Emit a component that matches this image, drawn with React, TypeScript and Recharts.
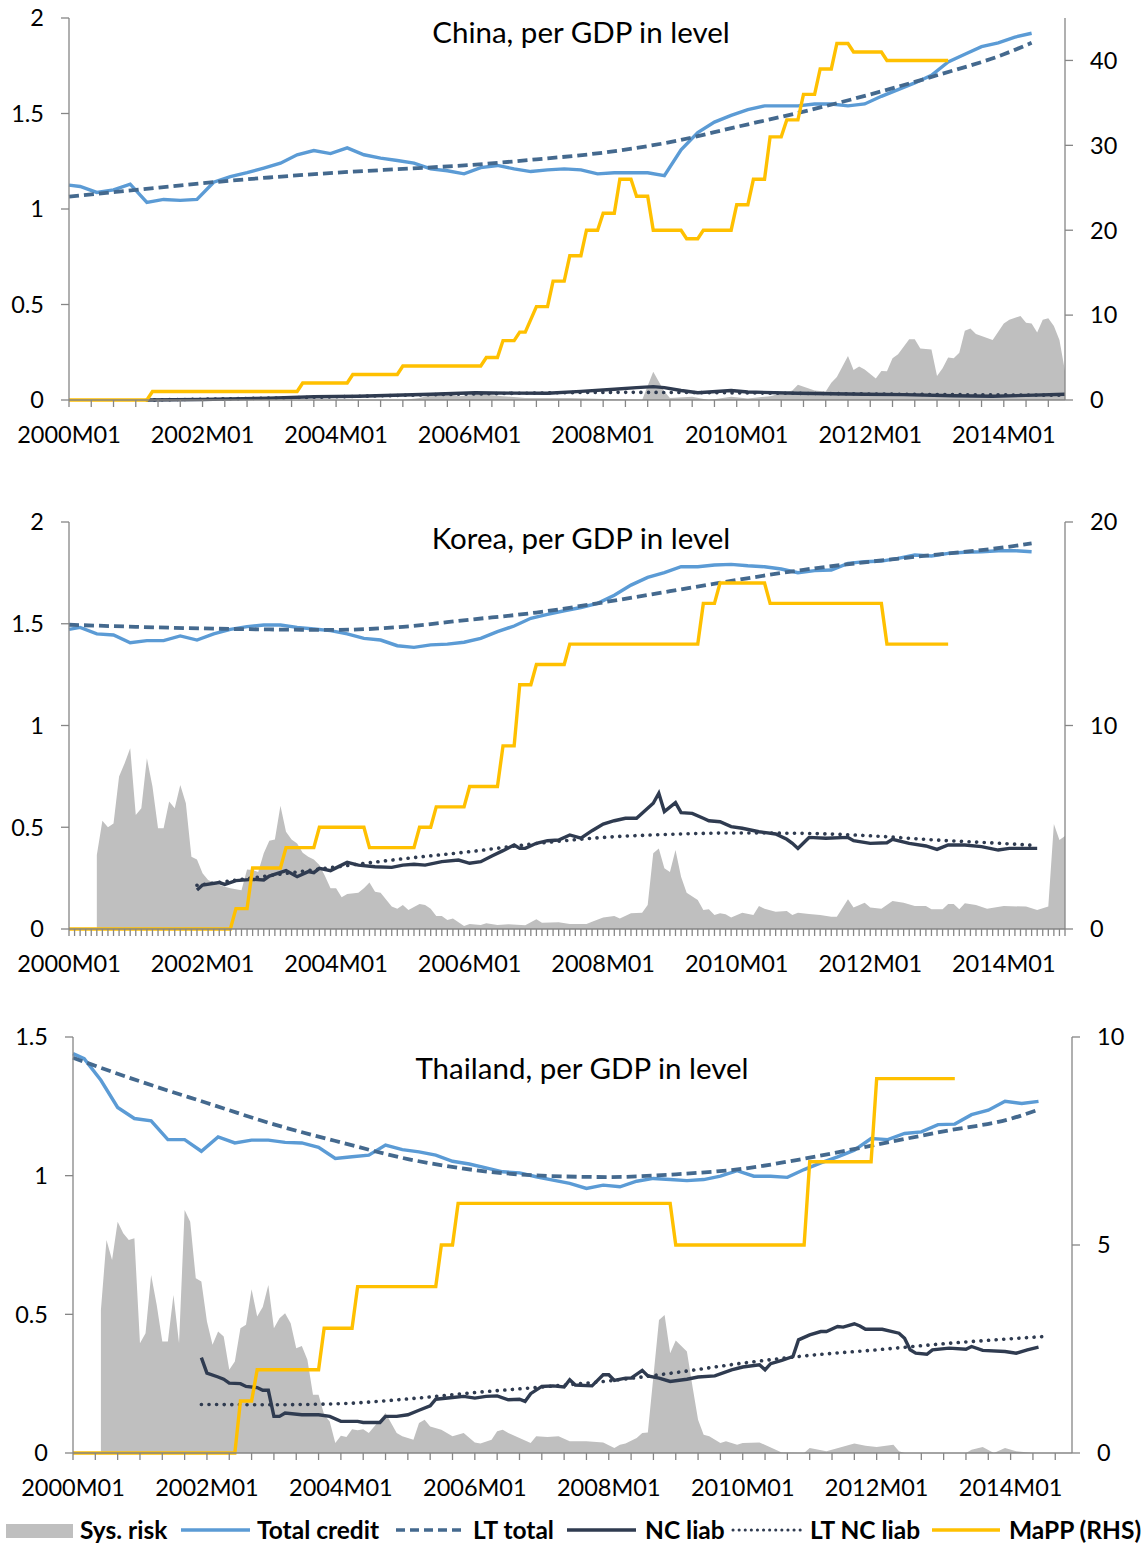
import React from "react";
import { Area, ComposedChart, Line, XAxis, YAxis } from "recharts";

const FONT = "Lato, 'Open Sans', sans-serif";
const AXIS = "#868686";
const C_RISK = "#BFBFBF";
const C_CREDIT = "#5B9BD5";
const C_LT = "#44698E";
const C_NC = "#2F3B50";
const C_MAPP = "#FFC000";

// month index: 0 = 2000M01
const labelMonths = [0, 24, 48, 72, 96, 120, 144, 168];
const labelText = ["2000M01", "2002M01", "2004M01", "2006M01", "2008M01", "2010M01", "2012M01", "2014M01"];

// total credit is quarterly
const quarterMonths = [
  0, 2, 5, 8, 11, 14, 17, 20, 23, 26, 29, 32, 35, 38, 41, 44, 47, 50, 53, 56, 59, 62, 65, 68, 71, 74, 77, 80, 83, 86,
  89, 92, 95, 98, 101, 104, 107, 110, 113, 116, 119, 122, 125, 128, 131, 134, 137, 140, 143, 146, 149, 152, 155, 158,
  161, 164, 167, 170, 173,
];
const trendMonths = [0, 12, 24, 36, 48, 60, 72, 84, 96, 108, 120, 132, 144, 156, 168, 173];

// ---------- China ----------
const chinaCredit = [
  1.125, 1.118, 1.087, 1.1, 1.13, 1.034, 1.05, 1.045, 1.05, 1.14, 1.17, 1.19, 1.214, 1.24, 1.284, 1.306, 1.29, 1.32,
  1.284, 1.266, 1.254, 1.24, 1.21, 1.2, 1.184, 1.217, 1.228, 1.21, 1.196, 1.205, 1.21, 1.205, 1.184, 1.19, 1.19, 1.19,
  1.175, 1.31, 1.4, 1.455, 1.49, 1.52, 1.54, 1.54, 1.54, 1.55, 1.55, 1.54, 1.55, 1.59, 1.625, 1.66, 1.7, 1.77, 1.81,
  1.85, 1.87, 1.9, 1.92,
];
const chinaLt = [1.065, 1.1, 1.135, 1.165, 1.19, 1.21, 1.23, 1.26, 1.295, 1.35, 1.43, 1.51, 1.6, 1.7, 1.81, 1.87];
const chinaNcM = [14, 24, 36, 44, 52, 60, 65, 73, 80, 86, 92, 98, 102, 105, 107, 110, 113, 119, 122, 131, 143, 150, 159, 166, 172, 179];
const chinaNcV = [0, 0.003, 0.01, 0.017, 0.02, 0.026, 0.03, 0.038, 0.036, 0.035, 0.045, 0.056, 0.065, 0.07, 0.065, 0.05, 0.038, 0.05, 0.042, 0.035, 0.03, 0.028, 0.022, 0.02, 0.024, 0.03];
const chinaLtNcM = [14, 40, 70, 100, 130, 160, 179];
const chinaLtNcV = [0, 0.012, 0.03, 0.04, 0.035, 0.028, 0.025];
const chinaRiskM = [
  0, 60, 63, 67, 70, 74, 78, 82, 90, 103, 105, 107, 108, 112, 115, 119, 122, 126, 130, 131, 134, 136, 137, 138, 140,
  141, 142, 143, 145, 146, 147, 148, 149, 151, 152, 153, 155, 156, 157, 158, 159, 160, 161, 162, 163, 166, 168, 169,
  171, 172, 173, 174, 175, 176, 177, 178, 179,
];
const chinaRiskV = [
  0, 0, 0.01, 0.04, 0.02, 0.03, 0.02, 0.01, 0.01, 0, 0.148, 0.044, 0.01, 0.017, 0, 0.017, 0.008, 0.02, 0.05, 0.08,
  0.05, 0.044, 0.09, 0.12, 0.23, 0.157, 0.175, 0.16, 0.113, 0.152, 0.15, 0.218, 0.24, 0.318, 0.318, 0.27, 0.265, 0.126,
  0.166, 0.223, 0.218, 0.248, 0.363, 0.375, 0.346, 0.314, 0.4, 0.42, 0.44, 0.405, 0.4, 0.354, 0.42, 0.428, 0.388,
  0.314, 0.15,
];
const chinaMappM = [
  0, 14, 15, 41, 42, 50, 51, 59, 60, 74, 75, 77, 78, 80, 81, 82, 84, 86, 87, 89, 90, 92, 93, 95, 96, 98, 99, 101, 102,
  104, 105, 110, 111, 113, 114, 119, 120, 122, 123, 125, 126, 128, 129, 131, 132, 134, 135, 137, 138, 140, 141, 146,
  147, 158,
];
const chinaMappV = [
  0, 0, 1, 1, 2, 2, 3, 3, 4, 4, 5, 5, 7, 7, 8, 8, 11, 11, 14, 14, 17, 17, 20, 20, 22, 22, 26, 26, 24, 24, 20, 20, 19,
  19, 20, 20, 23, 23, 26, 26, 31, 31, 33, 33, 36, 36, 39, 39, 42, 42, 41, 41, 40, 40,
];

// ---------- Korea ----------
const koreaCredit = [
  1.472, 1.482, 1.45, 1.445, 1.407, 1.417, 1.417, 1.44, 1.42, 1.45, 1.472, 1.486, 1.494, 1.494, 1.482, 1.474, 1.466,
  1.45, 1.428, 1.42, 1.392, 1.384, 1.396, 1.4, 1.409, 1.428, 1.461, 1.489, 1.527, 1.546, 1.564, 1.58, 1.6, 1.64, 1.69,
  1.728, 1.751, 1.78, 1.78, 1.789, 1.792, 1.785, 1.78, 1.769, 1.751, 1.761, 1.764, 1.797, 1.805, 1.808, 1.821, 1.838,
  1.833, 1.846, 1.851, 1.854, 1.859, 1.859, 1.854,
];
const koreaLt = [1.495, 1.485, 1.477, 1.472, 1.47, 1.485, 1.52, 1.555, 1.605, 1.66, 1.715, 1.765, 1.805, 1.84, 1.875, 1.895];
const koreaNcM = [
  23, 24, 27, 28, 30, 33, 35, 36, 39, 41, 43, 44, 45, 47, 49, 50, 52, 55, 58, 60, 62, 64, 67, 70, 72, 74, 76, 78, 80,
  81, 82, 84, 86, 88, 90, 92, 94, 96, 98, 100, 102, 104, 105, 106, 107, 109, 110, 112, 114, 115, 117, 119, 121, 124,
  127, 129, 130, 131, 133, 136, 140, 141, 144, 147, 148, 151, 154, 156, 158, 161, 164, 167, 169, 174,
];
const koreaNcV = [
  0.192, 0.216, 0.228, 0.219, 0.238, 0.244, 0.241, 0.26, 0.287, 0.257, 0.282, 0.277, 0.298, 0.287, 0.314, 0.328,
  0.314, 0.306, 0.303, 0.314, 0.318, 0.314, 0.331, 0.339, 0.323, 0.331, 0.359, 0.385, 0.413, 0.396, 0.396, 0.421,
  0.434, 0.437, 0.462, 0.446, 0.483, 0.516, 0.532, 0.544, 0.544, 0.593, 0.618, 0.667, 0.577, 0.621, 0.572, 0.568,
  0.544, 0.532, 0.527, 0.503, 0.495, 0.478, 0.467, 0.441, 0.421, 0.396, 0.45, 0.446, 0.45, 0.434, 0.421, 0.424, 0.441,
  0.421, 0.408, 0.391, 0.413, 0.413, 0.405, 0.388, 0.396, 0.396,
];
const koreaLtNcM = [23, 36, 48, 60, 72, 84, 96, 108, 120, 132, 144, 156, 168, 174];
const koreaLtNcV = [0.215, 0.262, 0.305, 0.345, 0.38, 0.42, 0.45, 0.465, 0.472, 0.47, 0.458, 0.437, 0.42, 0.41];
const koreaRiskM = [
  5, 6, 7, 8, 9, 10, 11, 12, 13, 14, 15, 16, 17, 18, 19, 20, 21, 22, 23, 24, 25, 27, 28, 29, 31, 32, 33, 34, 35, 36,
  37, 38, 39, 40, 41, 42, 43, 44, 45, 46, 47, 48, 49, 50, 52, 53, 54, 55, 56, 58, 59, 60, 61, 63, 64, 65, 66, 67, 68,
  69, 71, 72, 74, 75, 77, 79, 82, 84, 85, 88, 90, 93, 94, 96, 98, 99, 101, 103, 104, 105, 106, 107, 108, 109, 110, 111,
  113, 114, 115, 116, 117, 118, 119, 121, 123, 124, 125, 127, 129, 130, 131, 133, 135, 137, 138, 140, 141, 143, 144,
  146, 148, 150, 152, 154, 155, 157, 158, 159, 160, 161, 163, 165, 168, 172, 174, 176, 177, 178, 179,
];
const koreaRiskV = [
  0.364, 0.532, 0.5, 0.519, 0.749, 0.814, 0.888, 0.56, 0.593, 0.839, 0.7, 0.495, 0.495, 0.626, 0.593, 0.708, 0.618,
  0.355, 0.342, 0.274, 0.241, 0.216, 0.208, 0.2, 0.19, 0.293, 0.29, 0.28, 0.372, 0.434, 0.44, 0.606, 0.478, 0.44,
  0.42, 0.375, 0.355, 0.342, 0.314, 0.26, 0.2, 0.2, 0.156, 0.172, 0.178, 0.2, 0.228, 0.183, 0.178, 0.11, 0.1, 0.118,
  0.093, 0.123, 0.118, 0.1, 0.064, 0.064, 0.044, 0.052, 0.015, 0.025, 0.02, 0.028, 0.02, 0.023, 0.018, 0.048, 0.031,
  0.033, 0.025, 0.025, 0.036, 0.057, 0.064, 0.052, 0.077, 0.08, 0.118, 0.372, 0.396, 0.298, 0.28, 0.388, 0.257, 0.178,
  0.143, 0.093, 0.097, 0.069, 0.077, 0.072, 0.057, 0.08, 0.069, 0.113, 0.1, 0.085, 0.088, 0.069, 0.08, 0.074, 0.069,
  0.06, 0.06, 0.146, 0.106, 0.129, 0.106, 0.1, 0.138, 0.129, 0.113, 0.113, 0.097, 0.097, 0.123, 0.123, 0.097, 0.126,
  0.118, 0.1, 0.113, 0.11, 0.093, 0.11, 0.516, 0.437, 0.457,
];
const koreaMappM = [0, 29, 30, 32, 33, 38, 39, 44, 45, 53, 54, 62, 63, 65, 66, 71, 72, 77, 78, 80, 81, 83, 84, 89, 90, 113, 114, 116, 117, 125, 126, 146, 147, 158];
const koreaMappV = [0, 0, 1, 1, 3, 3, 4, 4, 5, 5, 4, 4, 5, 5, 6, 6, 7, 7, 9, 9, 12, 12, 13, 13, 14, 14, 16, 16, 17, 17, 16, 16, 14, 14];

// ---------- Thailand ----------
const thaiCredit = [
  1.44, 1.422, 1.344, 1.246, 1.206, 1.198, 1.13, 1.13, 1.088, 1.14, 1.118, 1.128, 1.128, 1.12, 1.118, 1.102, 1.062,
  1.068, 1.074, 1.11, 1.094, 1.086, 1.074, 1.052, 1.042, 1.028, 1.014, 1.01, 0.996, 0.984, 0.972, 0.954, 0.966, 0.96,
  0.98, 0.99, 0.986, 0.982, 0.986, 0.998, 1.018, 0.998, 0.998, 0.994, 1.022, 1.046, 1.068, 1.092, 1.134, 1.13, 1.152,
  1.158, 1.184, 1.186, 1.22, 1.236, 1.268, 1.26, 1.268,
];
const thaiLt = [1.425, 1.34, 1.262, 1.185, 1.12, 1.06, 1.02, 1.0, 0.995, 1.005, 1.025, 1.065, 1.112, 1.16, 1.205, 1.238];
const thaiNcM = [
  23, 24, 26, 27, 28, 30, 31, 33, 34, 35, 36, 37, 38, 41, 44, 46, 48, 51, 52, 55, 56, 58, 60, 62, 64, 65, 68, 70, 72,
  74, 76, 78, 80, 81, 82, 84, 86, 88, 89, 90, 93, 95, 96, 97, 99, 100, 102, 103, 105, 107, 110, 112, 115, 118, 120,
  123, 124, 125, 127, 129, 130, 132, 134, 135, 137, 138, 140, 141, 142, 145, 148, 149, 150, 151, 153, 154, 157, 160,
  161, 163, 167, 169, 171, 173,
];
const thaiNcV = [
  0.344, 0.288, 0.274, 0.266, 0.252, 0.25, 0.24, 0.236, 0.226, 0.226, 0.132, 0.132, 0.144, 0.138, 0.138, 0.132, 0.114,
  0.114, 0.11, 0.11, 0.132, 0.132, 0.138, 0.154, 0.17, 0.194, 0.2, 0.204, 0.198, 0.204, 0.206, 0.192, 0.194, 0.186,
  0.214, 0.24, 0.242, 0.238, 0.264, 0.245, 0.242, 0.282, 0.282, 0.262, 0.27, 0.27, 0.298, 0.278, 0.27, 0.258, 0.266,
  0.274, 0.278, 0.3, 0.31, 0.318, 0.3, 0.322, 0.334, 0.348, 0.408, 0.426, 0.438, 0.438, 0.456, 0.454, 0.466, 0.458,
  0.446, 0.446, 0.432, 0.414, 0.372, 0.36, 0.356, 0.372, 0.378, 0.374, 0.384, 0.37, 0.366, 0.36, 0.372, 0.382,
];
const thaiLtNcM = [23, 36, 48, 60, 72, 84, 96, 108, 120, 132, 144, 156, 168, 174];
const thaiLtNcV = [0.175, 0.174, 0.178, 0.195, 0.218, 0.238, 0.26, 0.29, 0.324, 0.352, 0.372, 0.394, 0.412, 0.42];
const thaiRiskM = [
  5, 6, 7, 8, 9, 10, 11, 12, 13, 14, 15, 16, 17, 18, 19, 20, 21, 22, 23, 24, 25, 26, 27, 28, 29, 30, 31, 32, 33, 34,
  35, 36, 37, 38, 39, 40, 41, 42, 43, 44, 45, 46, 47, 48, 49, 50, 51, 52, 53, 55, 56, 58, 59, 61, 62, 63, 64, 66, 68,
  70, 72, 73, 75, 76, 77, 78, 80, 82, 83, 85, 87, 89, 92, 95, 97, 98, 99, 101, 102, 103, 105, 106, 107, 108, 110, 111,
  112, 113, 114, 116, 117, 119, 120, 123, 127, 131, 132, 135, 140, 142, 144, 147, 148, 149, 160, 161, 163, 165, 167,
  169, 172, 179,
];
const thaiRiskV = [
  0.516, 0.768, 0.696, 0.834, 0.792, 0.768, 0.774, 0.396, 0.432, 0.642, 0.534, 0.402, 0.402, 0.57, 0.396, 0.876, 0.834,
  0.63, 0.618, 0.474, 0.39, 0.438, 0.42, 0.3, 0.33, 0.45, 0.462, 0.59, 0.492, 0.526, 0.606, 0.45, 0.486, 0.504, 0.468,
  0.378, 0.386, 0.336, 0.21, 0.21, 0.138, 0.114, 0.036, 0.062, 0.058, 0.086, 0.082, 0.086, 0.072, 0.12, 0.144, 0.072,
  0.06, 0.048, 0.108, 0.12, 0.096, 0.084, 0.06, 0.072, 0.038, 0.034, 0.048, 0.078, 0.084, 0.072, 0.054, 0.036, 0.06,
  0.058, 0.06, 0.042, 0.042, 0.038, 0.018, 0.03, 0.034, 0.054, 0.072, 0.074, 0.48, 0.498, 0.36, 0.406, 0.366, 0.24,
  0.12, 0.066, 0.06, 0.036, 0.042, 0.03, 0.036, 0.038, 0.002, 0, 0.018, 0.006, 0.034, 0.026, 0.022, 0.03, 0.006, 0, 0,
  0.012, 0.022, 0, 0.018, 0.006, 0, 0,
];
const thaiMappM = [0, 29, 30, 32, 33, 44, 45, 50, 51, 65, 66, 68, 69, 107, 108, 131, 132, 143, 144, 158];
const thaiMappV = [0, 0, 1.25, 1.25, 2, 2, 3, 3, 4, 4, 5, 5, 6, 6, 5, 5, 7, 7, 9, 9];

type Pt = { m: number; v: number };
const zip = (ms: number[], vs: number[]): Pt[] => ms.map((m, i) => ({ m, v: vs[i] }));

const everyFour = Array.from({ length: 45 }, (_, i) => i * 4);
const everyMonth = Array.from({ length: 180 }, (_, i) => i);

function XTick({ x, y, payload }: any) {
  const i = labelMonths.indexOf(payload.value);
  if (i < 0) return <g />;
  return (
    <text x={x} y={y + 36} textAnchor="middle" fontSize={23.5} fontFamily={FONT} fill="#000">
      {labelText[i]}
    </text>
  );
}

type PanelProps = {
  top: number;
  height: number;
  margin: { top: number; right: number; bottom: number; left: number };
  xTicks: number[];
  leftMax: number;
  leftTicks: number[];
  rightMax: number;
  rightTicks: number[];
  risk: Pt[];
  credit: Pt[];
  lt: Pt[];
  nc: Pt[];
  ltNc: Pt[];
  mapp: Pt[];
};

function Panel(p: PanelProps) {
  const yTick = { fill: "#000", fontSize: 23.5, fontFamily: FONT };
  return (
    <div style={{ position: "absolute", left: 0, top: p.top }}>
      <ComposedChart width={1144} height={p.height} margin={p.margin}>
        <XAxis
          dataKey="m"
          type="number"
          domain={[0, 179]}
          ticks={p.xTicks}
          interval={0}
          tick={<XTick />}
          tickSize={7}
          tickMargin={0}
          height={60}
          axisLine={{ stroke: AXIS, strokeWidth: 1.3 }}
          tickLine={{ stroke: AXIS, strokeWidth: 1.3 }}
        />
        <YAxis
          yAxisId="l"
          domain={[0, p.leftMax]}
          ticks={p.leftTicks}
          interval={0}
          width={60}
          tickSize={8}
          tickMargin={17}
          tick={yTick}
          axisLine={{ stroke: AXIS, strokeWidth: 1.3 }}
          tickLine={{ stroke: AXIS, strokeWidth: 1.3 }}
        />
        <YAxis
          yAxisId="r"
          orientation="right"
          domain={[0, p.rightMax]}
          ticks={p.rightTicks}
          interval={0}
          width={70}
          tickSize={8}
          tickMargin={17}
          tick={yTick}
          axisLine={{ stroke: AXIS, strokeWidth: 1.3 }}
          tickLine={{ stroke: AXIS, strokeWidth: 1.3 }}
        />
        <Area
          yAxisId="l"
          data={p.risk}
          dataKey="v"
          type="linear"
          stroke="none"
          fill={C_RISK}
          fillOpacity={1}
          isAnimationActive={false}
        />
        <Line yAxisId="l" data={p.credit} dataKey="v" type="linear" stroke={C_CREDIT} strokeWidth={3.4} dot={false} isAnimationActive={false} />
        <Line
          yAxisId="l"
          data={p.lt}
          dataKey="v"
          type="monotone"
          stroke={C_LT}
          strokeWidth={3.8}
          strokeDasharray="10 5"
          dot={false}
          isAnimationActive={false}
        />
        <Line yAxisId="l" data={p.nc} dataKey="v" type="linear" stroke={C_NC} strokeWidth={3.4} dot={false} isAnimationActive={false} />
        <Line
          yAxisId="l"
          data={p.ltNc}
          dataKey="v"
          type="monotone"
          stroke={C_NC}
          strokeWidth={3.6}
          strokeDasharray="0.1 7.5"
          strokeLinecap="round"
          dot={false}
          isAnimationActive={false}
        />
        <Line yAxisId="r" data={p.mapp} dataKey="v" type="linear" stroke={C_MAPP} strokeWidth={3.4} dot={false} isAnimationActive={false} />
      </ComposedChart>
    </div>
  );
}

const legendText = { fontFamily: FONT, fontSize: 24.5, fontWeight: 700, fill: "#000" } as const;
const titleText = { fontFamily: FONT, fontSize: 29.5, fill: "#000", textAnchor: "middle" } as const;

export default function App() {
  return (
    <div style={{ position: "absolute", left: 0, top: 0, width: 1144, height: 1545, background: "#fff", fontFamily: FONT }}>
      <Panel
        top={0}
        height={460}
        margin={{ top: 18, right: 9, bottom: 0, left: 9 }}
        xTicks={everyFour}
        leftMax={2}
        leftTicks={[0, 0.5, 1, 1.5, 2]}
        rightMax={45}
        rightTicks={[0, 10, 20, 30, 40]}
        risk={zip(chinaRiskM, chinaRiskV)}
        credit={zip(quarterMonths, chinaCredit)}
        lt={zip(trendMonths, chinaLt)}
        nc={zip(chinaNcM, chinaNcV)}
        ltNc={zip(chinaLtNcM, chinaLtNcV)}
        mapp={zip(chinaMappM, chinaMappV)}
      />
      <Panel
        top={490}
        height={499}
        margin={{ top: 32, right: 9, bottom: 0, left: 9 }}
        xTicks={everyMonth}
        leftMax={2}
        leftTicks={[0, 0.5, 1, 1.5, 2]}
        rightMax={20}
        rightTicks={[0, 10, 20]}
        risk={zip(koreaRiskM, koreaRiskV)}
        credit={zip(quarterMonths, koreaCredit)}
        lt={zip(trendMonths, koreaLt)}
        nc={zip(koreaNcM, koreaNcV)}
        ltNc={zip(koreaLtNcM, koreaLtNcV)}
        mapp={zip(koreaMappM, koreaMappV)}
      />
      <Panel
        top={1010}
        height={503}
        margin={{ top: 27, right: 2, bottom: 0, left: 13 }}
        xTicks={everyFour}
        leftMax={1.5}
        leftTicks={[0, 0.5, 1, 1.5]}
        rightMax={10}
        rightTicks={[0, 5, 10]}
        risk={zip(thaiRiskM, thaiRiskV)}
        credit={zip(quarterMonths, thaiCredit)}
        lt={zip(trendMonths, thaiLt)}
        nc={zip(thaiNcM, thaiNcV)}
        ltNc={zip(thaiLtNcM, thaiLtNcV)}
        mapp={zip(thaiMappM, thaiMappV)}
      />
      <svg width={1144} height={1545} style={{ position: "absolute", left: 0, top: 0, pointerEvents: "none" }}>
        <text x={581} y={43} {...titleText}>China, per GDP in level</text>
        <text x={581} y={549} {...titleText}>Korea, per GDP in level</text>
        <text x={582} y={1079} {...titleText}>Thailand, per GDP in level</text>

        <rect x={6} y={1524} width={67} height={14} fill={C_RISK} />
        <text x={80} y={1539} {...legendText}>Sys. risk</text>
        <line x1={181} x2={250} y1={1530} y2={1530} stroke={C_CREDIT} strokeWidth={3.5} />
        <text x={257} y={1539} {...legendText}>Total credit</text>
        <line x1={396} x2={465} y1={1530} y2={1530} stroke={C_LT} strokeWidth={3.5} strokeDasharray="9 5" />
        <text x={473} y={1539} {...legendText}>LT total</text>
        <line x1={567} x2={636} y1={1530} y2={1530} stroke={C_NC} strokeWidth={3.5} />
        <text x={645} y={1539} {...legendText}>NC liab</text>
        <line x1={733} x2={801} y1={1530} y2={1530} stroke={C_NC} strokeWidth={3} strokeDasharray="0.1 6" strokeLinecap="round" />
        <text x={810} y={1539} {...legendText}>LT NC liab</text>
        <line x1={932} x2={1000} y1={1530} y2={1530} stroke={C_MAPP} strokeWidth={3.5} />
        <text x={1009} y={1539} {...legendText}>MaPP (RHS)</text>
      </svg>
    </div>
  );
}
